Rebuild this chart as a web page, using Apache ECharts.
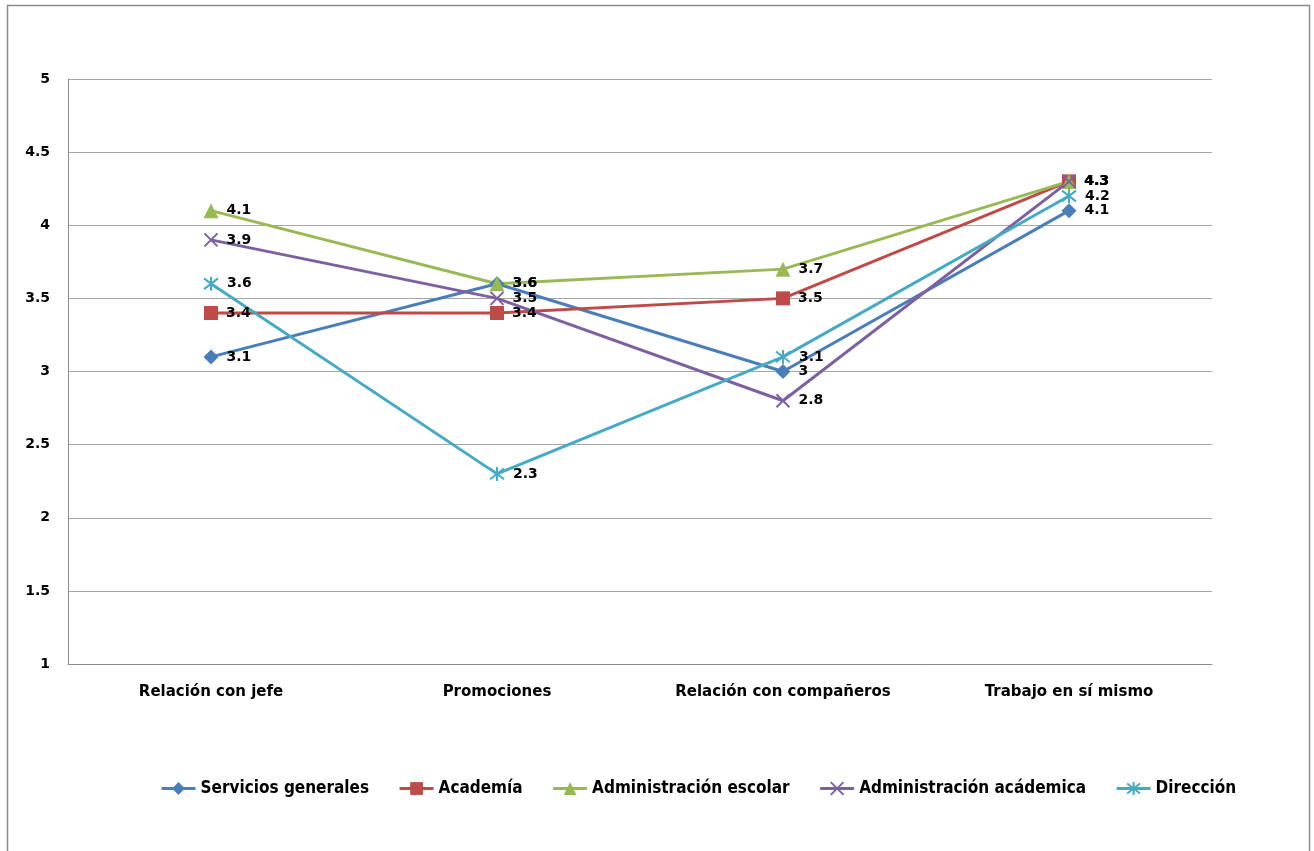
<!DOCTYPE html>
<html>
<head>
<meta charset="utf-8">
<script src="https://cdn.jsdelivr.net/npm/echarts@6/dist/echarts.min.js"></script>
<style>
  html, body { margin: 0; padding: 0; background: #fff; }
  #chart { width: 1314px; height: 851px; }
</style>
</head>
<body>
<div id="chart"></div>
<script>
// Categories on the x axis
const categories = ['Relación con jefe', 'Promociones', 'Relación con compañeros', 'Trabajo en sí mismo'];

// Average scores per area
const serviciosGenerales = [3.1, 3.6, 3.0, 4.1];
const academia = [3.4, 3.4, 3.5, 4.3];
const administracionEscolar = [4.1, 3.6, 3.7, 4.3];
const administracionAcademica = [3.9, 3.5, 2.8, 4.3];
const direccion = [3.6, 2.3, 3.1, 4.2];

const seriesNames = ['Servicios generales', 'Academía', 'Administración escolar', 'Administración acádemica', 'Dirección'];

// Y axis range
const yMin = 1, yMax = 5, yStep = 0.5;

const colors = ['#4A7EBB', '#BE4B48', '#98B954', '#7D60A0', '#46AAC5'];

// Stroke-only marker shapes
const crossPath = 'path://M0,0 L10,10 M10,0 L0,10';
const starPath = 'path://M0,0 L10,10 M10,0 L0,10 M5,-1.5 L5,11.5';

const labelFont = 'DejaVu Sans';

function makeSeries(name, data, color, symbol, size, stroked) {
  return {
    name: name,
    type: 'line',
    data: data,
    symbol: symbol,
    symbolSize: size,
    showAllSymbol: true,
    lineStyle: { color: color, width: 3 },
    itemStyle: stroked
      ? { color: 'rgba(0,0,0,0)', borderColor: color, borderWidth: 2 }
      : { color: color, borderColor: color, borderWidth: 0 },
    emphasis: { disabled: true },
    label: {
      show: true,
      position: 'right',
      distance: 8,
      color: '#000',
      fontFamily: labelFont,
      fontWeight: 'bold',
      fontSize: 14
    },
    z: 2
  };
}

const chart = echarts.init(document.getElementById('chart'), null, { renderer: 'canvas' });

chart.setOption({
  animation: false,
  backgroundColor: '#fff',
  color: colors,
  grid: { left: 68, right: 102, top: 79, bottom: 187, containLabel: false },
  graphic: [{
    type: 'rect',
    shape: { x: 7.5, y: 5.5, width: 1302, height: 860 },
    style: { fill: 'none', stroke: '#8c8c8c', lineWidth: 1.5 },
    silent: true
  }],
  legend: {
    left: 160,
    top: 780,
    padding: 0,
    itemWidth: 34,
    itemHeight: 16,
    itemGap: 29,
    data: seriesNames,
    lineStyle: { width: 3 },
    textStyle: {
      color: '#000',
      fontFamily: "'Liberation Sans Narrow', 'DejaVu Sans Condensed', sans-serif",
      fontWeight: 'bold',
      fontSize: 17
    }
  },
  xAxis: {
    type: 'category',
    data: categories,
    boundaryGap: true,
    axisLine: { show: true, lineStyle: { color: '#8c8c8c', width: 1 } },
    axisTick: { show: false },
    axisLabel: {
      color: '#000',
      fontFamily: labelFont,
      fontWeight: 'bold',
      fontSize: 15,
      margin: 21
    },
    splitLine: { show: false }
  },
  yAxis: {
    type: 'value',
    min: yMin,
    max: yMax,
    interval: yStep,
    axisLine: { show: true, lineStyle: { color: '#8c8c8c', width: 1 } },
    axisTick: { show: false },
    axisLabel: {
      color: '#000',
      fontFamily: labelFont,
      fontWeight: 'bold',
      fontSize: 14,
      margin: 18
    },
    splitLine: { show: true, lineStyle: { color: '#a6a6a6', width: 1 } }
  },
  series: [
    makeSeries(seriesNames[0], serviciosGenerales, colors[0], 'diamond', 15, false),
    makeSeries(seriesNames[1], academia, colors[1], 'rect', 14, false),
    makeSeries(seriesNames[2], administracionEscolar, colors[2], 'triangle', 15, false),
    makeSeries(seriesNames[3], administracionAcademica, colors[3], crossPath, 13, true),
    makeSeries(seriesNames[4], direccion, colors[4], starPath, 14, true)
  ]
});
</script>
</body>
</html>
